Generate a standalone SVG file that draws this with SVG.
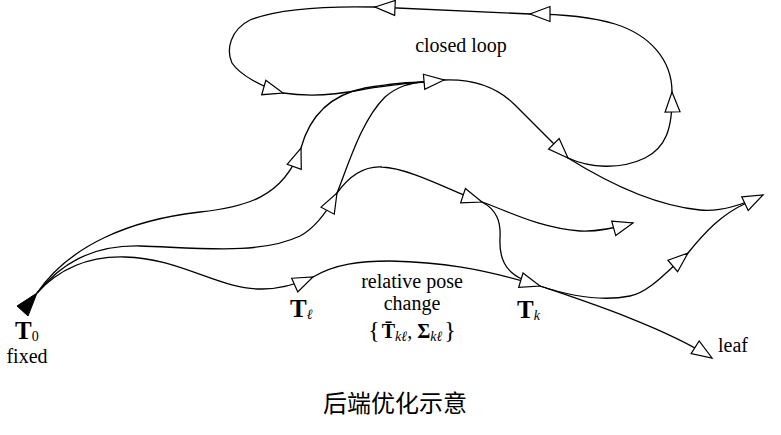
<svg xmlns="http://www.w3.org/2000/svg" width="781" height="435" viewBox="0 0 781 435">
<style>
  .e{fill:none;stroke:#000;stroke-width:1.3}
  .m{marker-end:url(#arr)}
  .t{font-family:"Liberation Serif","Times New Roman",serif;font-size:20px;fill:#000}
  .b{font-weight:bold;font-size:25px}
  .sub{font-style:italic;font-size:14px}
  .cap{font-family:"Noto Sans CJK SC","Noto Sans",sans-serif;font-size:24px;fill:#000}
</style>
<defs>
  <marker id="arr" viewBox="-2 -10 24 20" refX="20" refY="0" markerWidth="24" markerHeight="20" markerUnits="userSpaceOnUse" orient="auto">
    <path d="M0,-7.5 L20,0 L0,7.5 Z" fill="#fff" stroke="#000" stroke-width="1.2" stroke-linejoin="miter"/>
  </marker>
</defs>
<rect width="781" height="435" fill="#fff"/>
<g id="connectors">
  <path class="e" d="M301,148 C310,115 330,95 365,88 C390,84 405,82 424,82"/>
  <path class="e" d="M337,193 C350,160 362,120 385,97 C398,86 410,83 424,82"/>
  <path class="e" d="M482,202 C497,210 501,222 500,238 C499,258 505,272 524,280"/>
  <path class="e" d="M688,253 C705,232 722,214 745.5,203.5"/>
  <path class="e m" d="M37,293 C70,245 130,220 200,212 C245,207 283,198 301,148"/>
  <path class="e m" d="M37,293 C60,265 90,245 140,246 C200,248 260,255 300,236 C315,228 328,210 337,193"/>
  <path class="e m" d="M37,293 C60,268 90,256 125,257 C180,258 220,290 262,289 C280,289 295,285 313,277"/>
  <path class="e m" d="M283,93 C310,97 335,95 360,90 C385,85 410,83 444,80"/>
  <path class="e m" d="M337,193 C350,175 365,166 382,167 C410,168 455,193 482,202"/>
  <path class="e m" d="M313,277 C335,264 360,261 390,261 C440,262 480,268 540,286"/>
  <path class="e m" d="M482,202 C510,212 540,228 580,231 C597,232 615,228 633,223"/>
  <path class="e m" d="M540,286 C575,298 660,325 712,358"/>
  <path class="e m" d="M540,286 C570,296 600,302 630,296 C650,292 668,270 688,253"/>
  <path class="e m" d="M444,80 C470,79 495,85 515,105 C530,120 550,140 568,158"/>
  <path class="e m" d="M568,158 C590,168 620,170 645,158 C665,148 673,130 672,92"/>
  <path class="e m" d="M672,92 C672,60 650,35 615,24 C595,18 570,14 530,14"/>
  <path class="e m" d="M530,14 C490,12 440,10 375,7"/>
  <path class="e m" d="M375,7 C330,6 280,8 250,20 C230,30 226,50 232,63 C240,75 262,87 283,93"/>
  <path class="e m" d="M568,158 C600,178 650,205 700,210 C720,212 740,206 763,195"/>
</g>
<g id="T0" font-family="Liberation Serif, serif">
  <polygon points="17,306 28,316 37,293" fill="#000" stroke="#000" stroke-width="1"/>
  <text class="t" x="15" y="339"><tspan class="b">T</tspan><tspan font-size="14" dy="2">0</tspan></text>
  <text class="t" x="27" y="363" text-anchor="middle">fixed</text>
</g>
<g id="Tl" font-family="Liberation Serif, serif">
  <text class="t" x="290" y="317"><tspan class="b">T</tspan><tspan class="sub" dy="2">ℓ</tspan></text>
</g>
<g id="Tk" font-family="Liberation Serif, serif">
  <text class="t" x="517" y="318"><tspan class="b">T</tspan><tspan class="sub" dy="2">k</tspan></text>
</g>
<g id="leaf" font-family="Liberation Serif, serif">
  <text class="t" x="718" y="352">leaf</text>
</g>
<g id="closed-loop" font-family="Liberation Serif, serif">
  <text class="t" x="461" y="52" text-anchor="middle">closed loop</text>
</g>
<g id="relative-pose" font-family="Liberation Serif, serif">
  <text class="t" x="412" y="288" text-anchor="middle">relative pose</text>
  <text class="t" x="412" y="310" text-anchor="middle">change</text>
  <text class="t" x="412" y="338" text-anchor="middle"><tspan font-size="24">{</tspan><tspan font-weight="bold" dx="2">T̄</tspan><tspan class="sub" dy="3">kℓ</tspan><tspan dy="-3">, </tspan><tspan font-weight="bold">Σ</tspan><tspan class="sub" dy="3">kℓ</tspan><tspan dy="-3" dx="2" font-size="24">}</tspan></text>
</g>
<g id="caption">
  <text class="cap" x="395" y="412" text-anchor="middle">后端优化示意</text>
</g>
</svg>
